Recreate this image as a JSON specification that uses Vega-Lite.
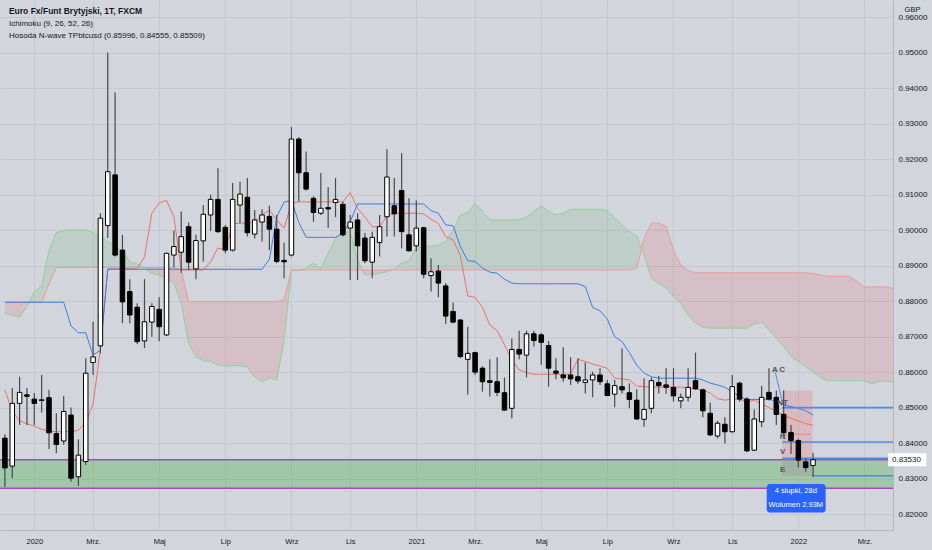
{
  "$schema": "https://vega.github.io/schema/vega-lite/v6.json",
  "width": 893,
  "height": 530,
  "autosize": {"type": "none"},
  "padding": {"left": 0, "top": 0, "right": 39, "bottom": 20},
  "background": "#d2d5dc",
  "config": {
    "view": {"stroke": null},
    "font": "Liberation Sans",
    "axis": {"labelFont": "Liberation Sans", "labelFontSize": 8, "labelColor": "#131722", "gridColor": "#c5c8d0", "gridWidth": 1, "ticks": false, "domainColor": "#b4b7bf", "labelOverlap": false, "labelBound": false},
    "axisQuantitative": {"labelOverlap": false, "tickCount": 20}
  },
  "datasets": {
    "candles": [
      {"d": "2019-12-09", "o": 0.8414, "h": 0.8425, "l": 0.8276, "c": 0.8330},
      {"d": "2019-12-16", "o": 0.8335, "h": 0.8555, "l": 0.8301, "c": 0.8512},
      {"d": "2019-12-23", "o": 0.8512, "h": 0.8587, "l": 0.8451, "c": 0.8543},
      {"d": "2019-12-30", "o": 0.8536, "h": 0.8555, "l": 0.8451, "c": 0.8532},
      {"d": "2020-01-06", "o": 0.8524, "h": 0.8541, "l": 0.8451, "c": 0.8512},
      {"d": "2020-01-13", "o": 0.8522, "h": 0.8592, "l": 0.8486, "c": 0.8520},
      {"d": "2020-01-20", "o": 0.8528, "h": 0.8550, "l": 0.8383, "c": 0.8429},
      {"d": "2020-01-27", "o": 0.8427, "h": 0.8484, "l": 0.8371, "c": 0.8396},
      {"d": "2020-02-03", "o": 0.8406, "h": 0.8533, "l": 0.8395, "c": 0.8489},
      {"d": "2020-02-10", "o": 0.8479, "h": 0.8500, "l": 0.8291, "c": 0.8301},
      {"d": "2020-02-17", "o": 0.8305, "h": 0.8411, "l": 0.8279, "c": 0.8366},
      {"d": "2020-02-24", "o": 0.8348, "h": 0.8639, "l": 0.8338, "c": 0.8597},
      {"d": "2020-03-02", "o": 0.8627, "h": 0.8742, "l": 0.8592, "c": 0.8643},
      {"d": "2020-03-09", "o": 0.8674, "h": 0.9048, "l": 0.8653, "c": 0.9034},
      {"d": "2020-03-16", "o": 0.9013, "h": 0.9501, "l": 0.8978, "c": 0.9165},
      {"d": "2020-03-23", "o": 0.9156, "h": 0.9388, "l": 0.8926, "c": 0.8930},
      {"d": "2020-03-30", "o": 0.8944, "h": 0.8987, "l": 0.8738, "c": 0.8798},
      {"d": "2020-04-06", "o": 0.8827, "h": 0.8862, "l": 0.8738, "c": 0.8761},
      {"d": "2020-04-13", "o": 0.8783, "h": 0.8794, "l": 0.8679, "c": 0.8686},
      {"d": "2020-04-20", "o": 0.8688, "h": 0.8862, "l": 0.8668, "c": 0.8742},
      {"d": "2020-04-27", "o": 0.8741, "h": 0.8794, "l": 0.8700, "c": 0.8785},
      {"d": "2020-05-04", "o": 0.8777, "h": 0.8811, "l": 0.8687, "c": 0.8728},
      {"d": "2020-05-11", "o": 0.8705, "h": 0.8937, "l": 0.8702, "c": 0.8935},
      {"d": "2020-05-18", "o": 0.8930, "h": 0.8999, "l": 0.8896, "c": 0.8954},
      {"d": "2020-05-25", "o": 0.8938, "h": 0.9053, "l": 0.8880, "c": 0.8982},
      {"d": "2020-06-01", "o": 0.9010, "h": 0.9022, "l": 0.8888, "c": 0.8910},
      {"d": "2020-06-08", "o": 0.8891, "h": 0.8987, "l": 0.8862, "c": 0.8971},
      {"d": "2020-06-15", "o": 0.8970, "h": 0.9071, "l": 0.8912, "c": 0.9045},
      {"d": "2020-06-22", "o": 0.9043, "h": 0.9100, "l": 0.8998, "c": 0.9087},
      {"d": "2020-06-29", "o": 0.9087, "h": 0.9175, "l": 0.8992, "c": 0.8996},
      {"d": "2020-07-06", "o": 0.9008, "h": 0.9015, "l": 0.8935, "c": 0.8944},
      {"d": "2020-07-13", "o": 0.8944, "h": 0.9133, "l": 0.8940, "c": 0.9087},
      {"d": "2020-07-20", "o": 0.9071, "h": 0.9137, "l": 0.9020, "c": 0.9102},
      {"d": "2020-07-27", "o": 0.9093, "h": 0.9147, "l": 0.8982, "c": 0.8993},
      {"d": "2020-08-03", "o": 0.8989, "h": 0.9057, "l": 0.8977, "c": 0.9029},
      {"d": "2020-08-10", "o": 0.9023, "h": 0.9059, "l": 0.8968, "c": 0.9043},
      {"d": "2020-08-17", "o": 0.9039, "h": 0.9069, "l": 0.8944, "c": 0.9003},
      {"d": "2020-08-24", "o": 0.9003, "h": 0.9043, "l": 0.8907, "c": 0.8912},
      {"d": "2020-08-31", "o": 0.8915, "h": 0.8965, "l": 0.8865, "c": 0.8911},
      {"d": "2020-09-07", "o": 0.8930, "h": 0.9291, "l": 0.8926, "c": 0.9257},
      {"d": "2020-09-14", "o": 0.9257, "h": 0.9262, "l": 0.9081, "c": 0.9162},
      {"d": "2020-09-21", "o": 0.9162, "h": 0.9222, "l": 0.9112, "c": 0.9116},
      {"d": "2020-09-28", "o": 0.9090, "h": 0.9095, "l": 0.9024, "c": 0.9050},
      {"d": "2020-10-05", "o": 0.9048, "h": 0.9161, "l": 0.9043, "c": 0.9062},
      {"d": "2020-10-12", "o": 0.9064, "h": 0.9121, "l": 0.9006, "c": 0.9060},
      {"d": "2020-10-19", "o": 0.9078, "h": 0.9147, "l": 0.9037, "c": 0.9087},
      {"d": "2020-10-26", "o": 0.9073, "h": 0.9080, "l": 0.8982, "c": 0.8987},
      {"d": "2020-11-02", "o": 0.9006, "h": 0.9043, "l": 0.8860, "c": 0.9023},
      {"d": "2020-11-09", "o": 0.9029, "h": 0.9048, "l": 0.8860, "c": 0.8956},
      {"d": "2020-11-16", "o": 0.8978, "h": 0.8992, "l": 0.8907, "c": 0.8914},
      {"d": "2020-11-23", "o": 0.8910, "h": 0.8996, "l": 0.8865, "c": 0.8980},
      {"d": "2020-11-30", "o": 0.8965, "h": 0.9043, "l": 0.8926, "c": 0.9010},
      {"d": "2020-12-07", "o": 0.9038, "h": 0.9228, "l": 0.8982, "c": 0.9150},
      {"d": "2020-12-14", "o": 0.9069, "h": 0.9147, "l": 0.8982, "c": 0.9046},
      {"d": "2020-12-21", "o": 0.9112, "h": 0.9217, "l": 0.8949, "c": 0.8996},
      {"d": "2020-12-28", "o": 0.8987, "h": 0.9090, "l": 0.8940, "c": 0.8942},
      {"d": "2021-01-04", "o": 0.8956, "h": 0.9084, "l": 0.8940, "c": 0.9006},
      {"d": "2021-01-11", "o": 0.9007, "h": 0.9010, "l": 0.8865, "c": 0.8876},
      {"d": "2021-01-18", "o": 0.8872, "h": 0.8921, "l": 0.8827, "c": 0.8883},
      {"d": "2021-01-25", "o": 0.8885, "h": 0.8902, "l": 0.8811, "c": 0.8851},
      {"d": "2021-02-01", "o": 0.8843, "h": 0.8851, "l": 0.8736, "c": 0.8758},
      {"d": "2021-02-08", "o": 0.8771, "h": 0.8796, "l": 0.8738, "c": 0.8741},
      {"d": "2021-02-15", "o": 0.8747, "h": 0.8749, "l": 0.8639, "c": 0.8644},
      {"d": "2021-02-22", "o": 0.8636, "h": 0.8728, "l": 0.8536, "c": 0.8653},
      {"d": "2021-03-01", "o": 0.8655, "h": 0.8658, "l": 0.8592, "c": 0.8600},
      {"d": "2021-03-08", "o": 0.8611, "h": 0.8617, "l": 0.8545, "c": 0.8573},
      {"d": "2021-03-15", "o": 0.8576, "h": 0.8636, "l": 0.8531, "c": 0.8571},
      {"d": "2021-03-22", "o": 0.8573, "h": 0.8642, "l": 0.8533, "c": 0.8543},
      {"d": "2021-03-29", "o": 0.8542, "h": 0.8585, "l": 0.8491, "c": 0.8493},
      {"d": "2021-04-05", "o": 0.8498, "h": 0.8695, "l": 0.8470, "c": 0.8664},
      {"d": "2021-04-12", "o": 0.8664, "h": 0.8717, "l": 0.8636, "c": 0.8651},
      {"d": "2021-04-19", "o": 0.8648, "h": 0.8717, "l": 0.8585, "c": 0.8708},
      {"d": "2021-04-26", "o": 0.8708, "h": 0.8717, "l": 0.8672, "c": 0.8689},
      {"d": "2021-05-03", "o": 0.8705, "h": 0.8710, "l": 0.8620, "c": 0.8684},
      {"d": "2021-05-10", "o": 0.8675, "h": 0.8688, "l": 0.8559, "c": 0.8611},
      {"d": "2021-05-17", "o": 0.8603, "h": 0.8639, "l": 0.8580, "c": 0.8597},
      {"d": "2021-05-24", "o": 0.8592, "h": 0.8670, "l": 0.8573, "c": 0.8584},
      {"d": "2021-05-31", "o": 0.8592, "h": 0.8642, "l": 0.8564, "c": 0.8581},
      {"d": "2021-06-07", "o": 0.8587, "h": 0.8639, "l": 0.8567, "c": 0.8575},
      {"d": "2021-06-14", "o": 0.8571, "h": 0.8627, "l": 0.8540, "c": 0.8578},
      {"d": "2021-06-21", "o": 0.8578, "h": 0.8601, "l": 0.8529, "c": 0.8592},
      {"d": "2021-06-28", "o": 0.8592, "h": 0.8611, "l": 0.8564, "c": 0.8573},
      {"d": "2021-07-05", "o": 0.8567, "h": 0.8578, "l": 0.8533, "c": 0.8534},
      {"d": "2021-07-12", "o": 0.8538, "h": 0.8578, "l": 0.8501, "c": 0.8562},
      {"d": "2021-07-19", "o": 0.8559, "h": 0.8667, "l": 0.8540, "c": 0.8550},
      {"d": "2021-07-26", "o": 0.8542, "h": 0.8569, "l": 0.8498, "c": 0.8523},
      {"d": "2021-08-02", "o": 0.8521, "h": 0.8552, "l": 0.8465, "c": 0.8468},
      {"d": "2021-08-09", "o": 0.8467, "h": 0.8583, "l": 0.8446, "c": 0.8495},
      {"d": "2021-08-16", "o": 0.8498, "h": 0.8585, "l": 0.8484, "c": 0.8576},
      {"d": "2021-08-23", "o": 0.8571, "h": 0.8589, "l": 0.8540, "c": 0.8562},
      {"d": "2021-08-30", "o": 0.8564, "h": 0.8611, "l": 0.8539, "c": 0.8557},
      {"d": "2021-09-06", "o": 0.8557, "h": 0.8611, "l": 0.8517, "c": 0.8533},
      {"d": "2021-09-13", "o": 0.8519, "h": 0.8540, "l": 0.8498, "c": 0.8529},
      {"d": "2021-09-20", "o": 0.8529, "h": 0.8611, "l": 0.8517, "c": 0.8557},
      {"d": "2021-09-27", "o": 0.8576, "h": 0.8655, "l": 0.8550, "c": 0.8553},
      {"d": "2021-10-04", "o": 0.8550, "h": 0.8554, "l": 0.8473, "c": 0.8491},
      {"d": "2021-10-11", "o": 0.8484, "h": 0.8514, "l": 0.8420, "c": 0.8423},
      {"d": "2021-10-18", "o": 0.8420, "h": 0.8463, "l": 0.8413, "c": 0.8456},
      {"d": "2021-10-25", "o": 0.8453, "h": 0.8473, "l": 0.8399, "c": 0.8432},
      {"d": "2021-11-01", "o": 0.8432, "h": 0.8592, "l": 0.8429, "c": 0.8559},
      {"d": "2021-11-08", "o": 0.8569, "h": 0.8573, "l": 0.8517, "c": 0.8524},
      {"d": "2021-11-15", "o": 0.8524, "h": 0.8529, "l": 0.8375, "c": 0.8378},
      {"d": "2021-11-22", "o": 0.8380, "h": 0.8495, "l": 0.8378, "c": 0.8468},
      {"d": "2021-11-29", "o": 0.8460, "h": 0.8561, "l": 0.8445, "c": 0.8529},
      {"d": "2021-12-06", "o": 0.8543, "h": 0.8611, "l": 0.8520, "c": 0.8524},
      {"d": "2021-12-13", "o": 0.8529, "h": 0.8548, "l": 0.8451, "c": 0.8481},
      {"d": "2021-12-20", "o": 0.8481, "h": 0.8548, "l": 0.8420, "c": 0.8429},
      {"d": "2021-12-27", "o": 0.8430, "h": 0.8451, "l": 0.8369, "c": 0.8407},
      {"d": "2022-01-03", "o": 0.8407, "h": 0.8413, "l": 0.8332, "c": 0.8352},
      {"d": "2022-01-10", "o": 0.8347, "h": 0.8357, "l": 0.8319, "c": 0.8331},
      {"d": "2022-01-17", "o": 0.8337, "h": 0.8373, "l": 0.8305, "c": 0.8353}
    ],
    "ichi": [
      {"d": "2019-12-09", "t": 0.8550, "kj": 0.8797},
      {"d": "2019-12-16", "t": 0.8489, "kj": 0.8797},
      {"d": "2019-12-23", "t": 0.8463, "kj": 0.8797},
      {"d": "2019-12-30", "t": 0.8454, "kj": 0.8797},
      {"d": "2020-01-06", "t": 0.8448, "kj": 0.8797},
      {"d": "2020-01-13", "t": 0.8439, "kj": 0.8797},
      {"d": "2020-01-20", "t": 0.8434, "kj": 0.8797},
      {"d": "2020-01-27", "t": 0.8432, "kj": 0.8797},
      {"d": "2020-02-03", "t": 0.8432, "kj": 0.8797},
      {"d": "2020-02-10", "t": 0.8432, "kj": 0.8730},
      {"d": "2020-02-17", "t": 0.8436, "kj": 0.8711},
      {"d": "2020-02-24", "t": 0.8459, "kj": 0.8711},
      {"d": "2020-03-02", "t": 0.8510, "kj": 0.8648},
      {"d": "2020-03-09", "t": 0.8665, "kj": 0.8662},
      {"d": "2020-03-16", "t": 0.8891, "kj": 0.8890},
      {"d": "2020-03-23", "t": 0.8891, "kj": 0.8890},
      {"d": "2020-03-30", "t": 0.8891, "kj": 0.8890},
      {"d": "2020-04-06", "t": 0.8891, "kj": 0.8890},
      {"d": "2020-04-13", "t": 0.8891, "kj": 0.8890},
      {"d": "2020-04-20", "t": 0.8925, "kj": 0.8890},
      {"d": "2020-04-27", "t": 0.9048, "kj": 0.8890},
      {"d": "2020-05-04", "t": 0.9077, "kj": 0.8890},
      {"d": "2020-05-11", "t": 0.9084, "kj": 0.8890},
      {"d": "2020-05-18", "t": 0.9038, "kj": 0.8890},
      {"d": "2020-05-25", "t": 0.8888, "kj": 0.8890},
      {"d": "2020-06-01", "t": 0.8888, "kj": 0.8890},
      {"d": "2020-06-08", "t": 0.8888, "kj": 0.8890},
      {"d": "2020-06-15", "t": 0.8888, "kj": 0.8890},
      {"d": "2020-06-22", "t": 0.8911, "kj": 0.8890},
      {"d": "2020-06-29", "t": 0.8950, "kj": 0.8890},
      {"d": "2020-07-06", "t": 0.8944, "kj": 0.8890},
      {"d": "2020-07-13", "t": 0.9018, "kj": 0.8890},
      {"d": "2020-07-20", "t": 0.9020, "kj": 0.8890},
      {"d": "2020-07-27", "t": 0.9020, "kj": 0.8890},
      {"d": "2020-08-03", "t": 0.9022, "kj": 0.8890},
      {"d": "2020-08-10", "t": 0.9043, "kj": 0.8890},
      {"d": "2020-08-17", "t": 0.9057, "kj": 0.8918},
      {"d": "2020-08-24", "t": 0.9029, "kj": 0.9038},
      {"d": "2020-08-31", "t": 0.9006, "kj": 0.9079},
      {"d": "2020-09-07", "t": 0.9076, "kj": 0.9084},
      {"d": "2020-09-14", "t": 0.9080, "kj": 0.9022},
      {"d": "2020-09-21", "t": 0.9080, "kj": 0.8980},
      {"d": "2020-09-28", "t": 0.9080, "kj": 0.8980},
      {"d": "2020-10-05", "t": 0.9080, "kj": 0.8980},
      {"d": "2020-10-12", "t": 0.9080, "kj": 0.8980},
      {"d": "2020-10-19", "t": 0.9080, "kj": 0.8980},
      {"d": "2020-10-26", "t": 0.9080, "kj": 0.8992},
      {"d": "2020-11-02", "t": 0.9106, "kj": 0.9024},
      {"d": "2020-11-09", "t": 0.9062, "kj": 0.9074},
      {"d": "2020-11-16", "t": 0.9037, "kj": 0.9074},
      {"d": "2020-11-23", "t": 0.9010, "kj": 0.9074},
      {"d": "2020-11-30", "t": 0.9010, "kj": 0.9074},
      {"d": "2020-12-07", "t": 0.9040, "kj": 0.9074},
      {"d": "2020-12-14", "t": 0.9048, "kj": 0.9074},
      {"d": "2020-12-21", "t": 0.9048, "kj": 0.9074},
      {"d": "2020-12-28", "t": 0.9048, "kj": 0.9074},
      {"d": "2021-01-04", "t": 0.9048, "kj": 0.9074},
      {"d": "2021-01-11", "t": 0.9046, "kj": 0.9074},
      {"d": "2021-01-18", "t": 0.9031, "kj": 0.9055},
      {"d": "2021-01-25", "t": 0.9019, "kj": 0.9048},
      {"d": "2021-02-01", "t": 0.8982, "kj": 0.9015},
      {"d": "2021-02-08", "t": 0.8973, "kj": 0.9013},
      {"d": "2021-02-15", "t": 0.8928, "kj": 0.8954},
      {"d": "2021-02-22", "t": 0.8815, "kj": 0.8914},
      {"d": "2021-03-01", "t": 0.8811, "kj": 0.8912},
      {"d": "2021-03-08", "t": 0.8783, "kj": 0.8893},
      {"d": "2021-03-15", "t": 0.8733, "kj": 0.8882},
      {"d": "2021-03-22", "t": 0.8717, "kj": 0.8879},
      {"d": "2021-03-29", "t": 0.8677, "kj": 0.8862},
      {"d": "2021-04-05", "t": 0.8634, "kj": 0.8851},
      {"d": "2021-04-12", "t": 0.8606, "kj": 0.8849},
      {"d": "2021-04-19", "t": 0.8599, "kj": 0.8849},
      {"d": "2021-04-26", "t": 0.8594, "kj": 0.8849},
      {"d": "2021-05-03", "t": 0.8594, "kj": 0.8849},
      {"d": "2021-05-10", "t": 0.8594, "kj": 0.8849},
      {"d": "2021-05-17", "t": 0.8594, "kj": 0.8849},
      {"d": "2021-05-24", "t": 0.8594, "kj": 0.8849},
      {"d": "2021-05-31", "t": 0.8594, "kj": 0.8849},
      {"d": "2021-06-07", "t": 0.8636, "kj": 0.8849},
      {"d": "2021-06-14", "t": 0.8630, "kj": 0.8841},
      {"d": "2021-06-21", "t": 0.8623, "kj": 0.8782},
      {"d": "2021-06-28", "t": 0.8617, "kj": 0.8773},
      {"d": "2021-07-05", "t": 0.8611, "kj": 0.8749},
      {"d": "2021-07-12", "t": 0.8583, "kj": 0.8700},
      {"d": "2021-07-19", "t": 0.8581, "kj": 0.8686},
      {"d": "2021-07-26", "t": 0.8578, "kj": 0.8655},
      {"d": "2021-08-02", "t": 0.8561, "kj": 0.8620},
      {"d": "2021-08-09", "t": 0.8559, "kj": 0.8597},
      {"d": "2021-08-16", "t": 0.8558, "kj": 0.8587},
      {"d": "2021-08-23", "t": 0.8558, "kj": 0.8583},
      {"d": "2021-08-30", "t": 0.8558, "kj": 0.8583},
      {"d": "2021-09-06", "t": 0.8558, "kj": 0.8583},
      {"d": "2021-09-13", "t": 0.8558, "kj": 0.8583},
      {"d": "2021-09-20", "t": 0.8555, "kj": 0.8583},
      {"d": "2021-09-27", "t": 0.8552, "kj": 0.8583},
      {"d": "2021-10-04", "t": 0.8550, "kj": 0.8578},
      {"d": "2021-10-11", "t": 0.8541, "kj": 0.8569},
      {"d": "2021-10-18", "t": 0.8525, "kj": 0.8564},
      {"d": "2021-10-25", "t": 0.8521, "kj": 0.8557},
      {"d": "2021-11-01", "t": 0.8524, "kj": 0.8545},
      {"d": "2021-11-08", "t": 0.8524, "kj": 0.8531},
      {"d": "2021-11-15", "t": 0.8515, "kj": 0.8523},
      {"d": "2021-11-22", "t": 0.8521, "kj": 0.8523},
      {"d": "2021-11-29", "t": 0.8510, "kj": 0.8523},
      {"d": "2021-12-06", "t": 0.8500, "kj": 0.8523},
      {"d": "2021-12-13", "t": 0.8490, "kj": 0.8519},
      {"d": "2021-12-20", "t": 0.8478, "kj": 0.8507},
      {"d": "2021-12-27", "t": 0.8470, "kj": 0.8503},
      {"d": "2022-01-03", "t": 0.8462, "kj": 0.8498},
      {"d": "2022-01-10", "t": 0.8455, "kj": 0.8491},
      {"d": "2022-01-17", "t": 0.8450, "kj": 0.8479}
    ],
    "cloud": [
      {"d": "2019-12-09", "a": 0.8766, "b": 0.8797, "s": 1, "kind": "bear"},
      {"d": "2019-12-16", "a": 0.8761, "b": 0.8797, "s": 1, "kind": "bear"},
      {"d": "2019-12-23", "a": 0.8755, "b": 0.8797, "s": 1, "kind": "bear"},
      {"d": "2019-12-30", "a": 0.8785, "b": 0.8797, "s": 1, "kind": "bear"},
      {"d": "2020-01-01", "a": 0.8797, "b": 0.8797, "s": 1, "kind": "bear"},
      {"d": "2020-01-01", "a": 0.8797, "b": 0.8797, "s": 2, "kind": "bull"},
      {"d": "2020-01-06", "a": 0.8827, "b": 0.8797, "s": 2, "kind": "bull"},
      {"d": "2020-01-13", "a": 0.8843, "b": 0.8797, "s": 2, "kind": "bull"},
      {"d": "2020-01-20", "a": 0.8944, "b": 0.8849, "s": 2, "kind": "bull"},
      {"d": "2020-01-27", "a": 0.8993, "b": 0.8895, "s": 2, "kind": "bull"},
      {"d": "2020-02-03", "a": 0.8999, "b": 0.8895, "s": 2, "kind": "bull"},
      {"d": "2020-02-10", "a": 0.9001, "b": 0.8895, "s": 2, "kind": "bull"},
      {"d": "2020-02-17", "a": 0.9001, "b": 0.8895, "s": 2, "kind": "bull"},
      {"d": "2020-02-24", "a": 0.9001, "b": 0.8895, "s": 2, "kind": "bull"},
      {"d": "2020-03-02", "a": 0.8993, "b": 0.8895, "s": 2, "kind": "bull"},
      {"d": "2020-03-09", "a": 0.8982, "b": 0.8895, "s": 2, "kind": "bull"},
      {"d": "2020-03-16", "a": 0.8968, "b": 0.8895, "s": 2, "kind": "bull"},
      {"d": "2020-03-23", "a": 0.8956, "b": 0.8895, "s": 2, "kind": "bull"},
      {"d": "2020-03-30", "a": 0.8940, "b": 0.8895, "s": 2, "kind": "bull"},
      {"d": "2020-04-06", "a": 0.8911, "b": 0.8895, "s": 2, "kind": "bull"},
      {"d": "2020-04-13", "a": 0.8905, "b": 0.8895, "s": 2, "kind": "bull"},
      {"d": "2020-04-19", "a": 0.8895, "b": 0.8895, "s": 2, "kind": "bull"},
      {"d": "2020-04-19", "a": 0.8895, "b": 0.8895, "s": 3, "kind": "bear"},
      {"d": "2020-04-20", "a": 0.8893, "b": 0.8895, "s": 3, "kind": "bear"},
      {"d": "2020-04-27", "a": 0.8879, "b": 0.8895, "s": 3, "kind": "bear"},
      {"d": "2020-05-04", "a": 0.8874, "b": 0.8895, "s": 3, "kind": "bear"},
      {"d": "2020-05-11", "a": 0.8862, "b": 0.8895, "s": 3, "kind": "bear"},
      {"d": "2020-05-18", "a": 0.8851, "b": 0.8895, "s": 3, "kind": "bear"},
      {"d": "2020-05-25", "a": 0.8794, "b": 0.8888, "s": 3, "kind": "bear"},
      {"d": "2020-06-01", "a": 0.8681, "b": 0.8799, "s": 3, "kind": "bear"},
      {"d": "2020-06-08", "a": 0.8644, "b": 0.8799, "s": 3, "kind": "bear"},
      {"d": "2020-06-15", "a": 0.8632, "b": 0.8799, "s": 3, "kind": "bear"},
      {"d": "2020-06-22", "a": 0.8630, "b": 0.8799, "s": 3, "kind": "bear"},
      {"d": "2020-06-29", "a": 0.8620, "b": 0.8799, "s": 3, "kind": "bear"},
      {"d": "2020-07-06", "a": 0.8617, "b": 0.8799, "s": 3, "kind": "bear"},
      {"d": "2020-07-13", "a": 0.8618, "b": 0.8799, "s": 3, "kind": "bear"},
      {"d": "2020-07-20", "a": 0.8618, "b": 0.8799, "s": 3, "kind": "bear"},
      {"d": "2020-07-27", "a": 0.8615, "b": 0.8799, "s": 3, "kind": "bear"},
      {"d": "2020-08-03", "a": 0.8586, "b": 0.8799, "s": 3, "kind": "bear"},
      {"d": "2020-08-10", "a": 0.8573, "b": 0.8799, "s": 3, "kind": "bear"},
      {"d": "2020-08-17", "a": 0.8583, "b": 0.8799, "s": 3, "kind": "bear"},
      {"d": "2020-08-24", "a": 0.8578, "b": 0.8799, "s": 3, "kind": "bear"},
      {"d": "2020-08-31", "a": 0.8691, "b": 0.8804, "s": 3, "kind": "bear"},
      {"d": "2020-09-07", "a": 0.8888, "b": 0.8888, "s": 3, "kind": "bear"},
      {"d": "2020-09-07", "a": 0.8888, "b": 0.8888, "s": 4, "kind": "bull"},
      {"d": "2020-09-14", "a": 0.8888, "b": 0.8888, "s": 4, "kind": "bull"},
      {"d": "2020-09-21", "a": 0.8893, "b": 0.8888, "s": 4, "kind": "bull"},
      {"d": "2020-09-28", "a": 0.8907, "b": 0.8888, "s": 4, "kind": "bull"},
      {"d": "2020-10-05", "a": 0.8893, "b": 0.8888, "s": 4, "kind": "bull"},
      {"d": "2020-10-12", "a": 0.8935, "b": 0.8888, "s": 4, "kind": "bull"},
      {"d": "2020-10-19", "a": 0.8977, "b": 0.8888, "s": 4, "kind": "bull"},
      {"d": "2020-10-26", "a": 0.8992, "b": 0.8888, "s": 4, "kind": "bull"},
      {"d": "2020-11-02", "a": 0.8996, "b": 0.8888, "s": 4, "kind": "bull"},
      {"d": "2020-11-09", "a": 0.8916, "b": 0.8888, "s": 4, "kind": "bull"},
      {"d": "2020-11-13T16:00:00Z", "a": 0.8888, "b": 0.8888, "s": 4, "kind": "bull"},
      {"d": "2020-11-13T16:00:00Z", "a": 0.8888, "b": 0.8888, "s": 5, "kind": "bear"},
      {"d": "2020-11-16", "a": 0.8874, "b": 0.8888, "s": 5, "kind": "bear"},
      {"d": "2020-11-23", "a": 0.8875, "b": 0.8888, "s": 5, "kind": "bear"},
      {"d": "2020-11-30", "a": 0.8879, "b": 0.8888, "s": 5, "kind": "bear"},
      {"d": "2020-12-07", "a": 0.8883, "b": 0.8888, "s": 5, "kind": "bear"},
      {"d": "2020-12-12", "a": 0.8888, "b": 0.8888, "s": 5, "kind": "bear"},
      {"d": "2020-12-12", "a": 0.8888, "b": 0.8888, "s": 6, "kind": "bull"},
      {"d": "2020-12-14", "a": 0.8890, "b": 0.8888, "s": 6, "kind": "bull"},
      {"d": "2020-12-21", "a": 0.8907, "b": 0.8888, "s": 6, "kind": "bull"},
      {"d": "2020-12-28", "a": 0.8914, "b": 0.8888, "s": 6, "kind": "bull"},
      {"d": "2021-01-04", "a": 0.8949, "b": 0.8888, "s": 6, "kind": "bull"},
      {"d": "2021-01-11", "a": 0.8955, "b": 0.8888, "s": 6, "kind": "bull"},
      {"d": "2021-01-18", "a": 0.8955, "b": 0.8888, "s": 6, "kind": "bull"},
      {"d": "2021-01-25", "a": 0.8958, "b": 0.8888, "s": 6, "kind": "bull"},
      {"d": "2021-02-01", "a": 0.8969, "b": 0.8888, "s": 6, "kind": "bull"},
      {"d": "2021-02-08", "a": 0.8999, "b": 0.8888, "s": 6, "kind": "bull"},
      {"d": "2021-02-15", "a": 0.9043, "b": 0.8888, "s": 6, "kind": "bull"},
      {"d": "2021-02-22", "a": 0.9048, "b": 0.8888, "s": 6, "kind": "bull"},
      {"d": "2021-03-01", "a": 0.9076, "b": 0.8888, "s": 6, "kind": "bull"},
      {"d": "2021-03-08", "a": 0.9053, "b": 0.8888, "s": 6, "kind": "bull"},
      {"d": "2021-03-15", "a": 0.9029, "b": 0.8888, "s": 6, "kind": "bull"},
      {"d": "2021-03-22", "a": 0.9029, "b": 0.8888, "s": 6, "kind": "bull"},
      {"d": "2021-03-29", "a": 0.9029, "b": 0.8888, "s": 6, "kind": "bull"},
      {"d": "2021-04-05", "a": 0.9029, "b": 0.8888, "s": 6, "kind": "bull"},
      {"d": "2021-04-12", "a": 0.9029, "b": 0.8888, "s": 6, "kind": "bull"},
      {"d": "2021-04-19", "a": 0.9037, "b": 0.8888, "s": 6, "kind": "bull"},
      {"d": "2021-04-26", "a": 0.9053, "b": 0.8888, "s": 6, "kind": "bull"},
      {"d": "2021-05-03", "a": 0.9069, "b": 0.8888, "s": 6, "kind": "bull"},
      {"d": "2021-05-10", "a": 0.9053, "b": 0.8888, "s": 6, "kind": "bull"},
      {"d": "2021-05-17", "a": 0.9043, "b": 0.8888, "s": 6, "kind": "bull"},
      {"d": "2021-05-24", "a": 0.9048, "b": 0.8888, "s": 6, "kind": "bull"},
      {"d": "2021-05-31", "a": 0.9059, "b": 0.8888, "s": 6, "kind": "bull"},
      {"d": "2021-06-07", "a": 0.9059, "b": 0.8888, "s": 6, "kind": "bull"},
      {"d": "2021-06-14", "a": 0.9059, "b": 0.8888, "s": 6, "kind": "bull"},
      {"d": "2021-06-21", "a": 0.9059, "b": 0.8888, "s": 6, "kind": "bull"},
      {"d": "2021-06-28", "a": 0.9059, "b": 0.8888, "s": 6, "kind": "bull"},
      {"d": "2021-07-05", "a": 0.9055, "b": 0.8888, "s": 6, "kind": "bull"},
      {"d": "2021-07-12", "a": 0.9034, "b": 0.8888, "s": 6, "kind": "bull"},
      {"d": "2021-07-19", "a": 0.9015, "b": 0.8888, "s": 6, "kind": "bull"},
      {"d": "2021-07-26", "a": 0.8996, "b": 0.8888, "s": 6, "kind": "bull"},
      {"d": "2021-08-02", "a": 0.8984, "b": 0.8893, "s": 6, "kind": "bull"},
      {"d": "2021-08-06T14:00:00Z", "a": 0.8948, "b": 0.8948, "s": 6, "kind": "bull"},
      {"d": "2021-08-06T14:00:00Z", "a": 0.8948, "b": 0.8948, "s": 7, "kind": "bear"},
      {"d": "2021-08-09", "a": 0.8930, "b": 0.8977, "s": 7, "kind": "bear"},
      {"d": "2021-08-16", "a": 0.8865, "b": 0.9020, "s": 7, "kind": "bear"},
      {"d": "2021-08-23", "a": 0.8850, "b": 0.9020, "s": 7, "kind": "bear"},
      {"d": "2021-08-30", "a": 0.8837, "b": 0.9010, "s": 7, "kind": "bear"},
      {"d": "2021-09-06", "a": 0.8813, "b": 0.8944, "s": 7, "kind": "bear"},
      {"d": "2021-09-13", "a": 0.8794, "b": 0.8902, "s": 7, "kind": "bear"},
      {"d": "2021-09-20", "a": 0.8761, "b": 0.8886, "s": 7, "kind": "bear"},
      {"d": "2021-09-27", "a": 0.8738, "b": 0.8880, "s": 7, "kind": "bear"},
      {"d": "2021-10-04", "a": 0.8727, "b": 0.8880, "s": 7, "kind": "bear"},
      {"d": "2021-10-11", "a": 0.8724, "b": 0.8880, "s": 7, "kind": "bear"},
      {"d": "2021-10-18", "a": 0.8724, "b": 0.8880, "s": 7, "kind": "bear"},
      {"d": "2021-10-25", "a": 0.8724, "b": 0.8880, "s": 7, "kind": "bear"},
      {"d": "2021-11-01", "a": 0.8724, "b": 0.8880, "s": 7, "kind": "bear"},
      {"d": "2021-11-08", "a": 0.8724, "b": 0.8880, "s": 7, "kind": "bear"},
      {"d": "2021-11-15", "a": 0.8724, "b": 0.8880, "s": 7, "kind": "bear"},
      {"d": "2021-11-22", "a": 0.8736, "b": 0.8880, "s": 7, "kind": "bear"},
      {"d": "2021-11-29", "a": 0.8740, "b": 0.8880, "s": 7, "kind": "bear"},
      {"d": "2021-12-06", "a": 0.8719, "b": 0.8880, "s": 7, "kind": "bear"},
      {"d": "2021-12-13", "a": 0.8695, "b": 0.8880, "s": 7, "kind": "bear"},
      {"d": "2021-12-20", "a": 0.8672, "b": 0.8880, "s": 7, "kind": "bear"},
      {"d": "2021-12-27", "a": 0.8644, "b": 0.8880, "s": 7, "kind": "bear"},
      {"d": "2022-01-03", "a": 0.8630, "b": 0.8880, "s": 7, "kind": "bear"},
      {"d": "2022-01-10", "a": 0.8615, "b": 0.8880, "s": 7, "kind": "bear"},
      {"d": "2022-01-17", "a": 0.8601, "b": 0.8878, "s": 7, "kind": "bear"},
      {"d": "2022-01-24", "a": 0.8585, "b": 0.8874, "s": 7, "kind": "bear"},
      {"d": "2022-01-31", "a": 0.8576, "b": 0.8870, "s": 7, "kind": "bear"},
      {"d": "2022-02-07", "a": 0.8576, "b": 0.8870, "s": 7, "kind": "bear"},
      {"d": "2022-02-14", "a": 0.8576, "b": 0.8870, "s": 7, "kind": "bear"},
      {"d": "2022-02-21", "a": 0.8576, "b": 0.8870, "s": 7, "kind": "bear"},
      {"d": "2022-02-28", "a": 0.8576, "b": 0.8855, "s": 7, "kind": "bear"},
      {"d": "2022-03-07", "a": 0.8576, "b": 0.8840, "s": 7, "kind": "bear"},
      {"d": "2022-03-14", "a": 0.8567, "b": 0.8840, "s": 7, "kind": "bear"},
      {"d": "2022-03-21", "a": 0.8574, "b": 0.8840, "s": 7, "kind": "bear"},
      {"d": "2022-03-28", "a": 0.8574, "b": 0.8840, "s": 7, "kind": "bear"},
      {"d": "2022-04-04", "a": 0.8572, "b": 0.8835, "s": 7, "kind": "bear"}
    ]
  },
  "encoding": {
    "x": {
      "field": "d",
      "type": "temporal",
      "scale": {"type": "utc", "domain": [{"year": 2019, "month": 12, "date": 9, "hours": 2, "utc": true}, {"year": 2022, "month": 3, "date": 29, "hours": 10, "utc": true}]},
      "axis": {
        "title": null,
        "grid": true,
        "labelPadding": 7,
        "labelFontSize": 7.5,
        "labelOverlap": false,
        "labelFlush": false,
        "values": [
          {"year": 2020, "month": 1, "date": 6, "utc": true},
          {"year": 2020, "month": 3, "date": 2, "utc": true},
          {"year": 2020, "month": 5, "date": 4, "utc": true},
          {"year": 2020, "month": 7, "date": 6, "utc": true},
          {"year": 2020, "month": 9, "date": 7, "utc": true},
          {"year": 2020, "month": 11, "date": 2, "utc": true},
          {"year": 2021, "month": 1, "date": 4, "utc": true},
          {"year": 2021, "month": 3, "date": 1, "utc": true},
          {"year": 2021, "month": 5, "date": 3, "utc": true},
          {"year": 2021, "month": 7, "date": 5, "utc": true},
          {"year": 2021, "month": 9, "date": 6, "utc": true},
          {"year": 2021, "month": 11, "date": 1, "utc": true},
          {"year": 2022, "month": 1, "date": 3, "utc": true},
          {"year": 2022, "month": 3, "date": 7, "utc": true}
        ],
        "labelExpr": "utcmonth(datum.value) == 0 ? utcFormat(datum.value, '%Y') : ['', '', 'Mrz.', '', 'Maj', '', 'Lip', '', 'Wrz', '', 'Lis', ''][utcmonth(datum.value)]"
      }
    }
  },
  "layer": [
    {
      "data": {"name": "cloud"},
      "mark": {"type": "area", "clip": true, "opacity": 0.13},
      "encoding": {
        "y": {
          "field": "a", "type": "quantitative",
          "scale": {"domain": [0.8155, 0.9649], "nice": false, "zero": false},
          "axis": {
            "orient": "right", "title": "GBP", "titleAngle": 0, "titleFontSize": 7.5, "titleFontWeight": "normal",
            "titleColor": "#131722", "titleX": 19, "titleY": 9, "titleAlign": "center", "titleBaseline": "middle",
            "values": [0.82, 0.83, 0.84, 0.85, 0.86, 0.87, 0.88, 0.89, 0.90, 0.91, 0.92, 0.93, 0.94, 0.95, 0.96],
            "format": ".5f", "labelPadding": 5, "labelOverlap": false, "labelFlush": false, "grid": true
          }
        },
        "y2": {"field": "b"},
        "detail": {"field": "s"},
        "color": {"field": "kind", "type": "nominal", "scale": {"domain": ["bull", "bear"], "range": ["#43a047", "#e53935"]}, "legend": null}
      }
    },
    {
      "data": {"name": "cloud"},
      "mark": {"type": "line", "clip": true, "color": "#93cf98", "strokeWidth": 1},
      "encoding": {"y": {"field": "a", "type": "quantitative", "scale": {"domain": [0.8155, 0.9649], "nice": false, "zero": false}}}
    },
    {
      "data": {"name": "cloud"},
      "mark": {"type": "line", "clip": true, "color": "#ec9a9a", "strokeWidth": 1},
      "encoding": {"y": {"field": "b", "type": "quantitative", "scale": {"domain": [0.8155, 0.9649], "nice": false, "zero": false}}}
    },
    {
      "data": {"values": [{"d": "2019-11-01", "d2": "2022-06-01", "p": 0.8353, "p2": 0.8273}], "format": {"parse": {"d2": "date"}}},
      "mark": {"type": "rect", "clip": true, "color": "#4caf50", "opacity": 0.36},
      "encoding": {
        "x2": {"field": "d2"},
        "y": {"field": "p", "type": "quantitative", "scale": {"domain": [0.8155, 0.9649], "nice": false, "zero": false}},
        "y2": {"field": "p2"}
      }
    },
    {
      "data": {"values": [{"d": "2019-11-01", "d2": "2022-06-01", "p": 0.8353}, {"d": "2019-11-01", "d2": "2022-06-01", "p": 0.8273}], "format": {"parse": {"d2": "date"}}},
      "mark": {"type": "rule", "clip": true, "color": "#ab47bc", "strokeWidth": 1.5},
      "encoding": {
        "x2": {"field": "d2"},
        "y": {"field": "p", "type": "quantitative", "scale": {"domain": [0.8155, 0.9649], "nice": false, "zero": false}}
      }
    },
    {
      "data": {"values": [{"d": "2021-12-18T14:00:00Z", "d2": "2022-01-16T12:00:00Z", "p": 0.8548, "p2": 0.8354}], "format": {"parse": {"d2": "date"}}},
      "mark": {"type": "rect", "color": "#ef5350", "opacity": 0.2},
      "encoding": {
        "x2": {"field": "d2"},
        "y": {"field": "p", "type": "quantitative", "scale": {"domain": [0.8155, 0.9649], "nice": false, "zero": false}},
        "y2": {"field": "p2"}
      }
    },
    {
      "data": {"values": [{"d": "2021-12-18T14:00:00Z", "d2": "2022-01-16T12:00:00Z", "p": 0.8354, "p2": 0.8307}], "format": {"parse": {"d2": "date"}}},
      "mark": {"type": "rect", "color": "#9e9e9e", "opacity": 0.45},
      "encoding": {
        "x2": {"field": "d2"},
        "y": {"field": "p", "type": "quantitative", "scale": {"domain": [0.8155, 0.9649], "nice": false, "zero": false}},
        "y2": {"field": "p2"}
      }
    },
    {
      "data": {"values": [{"d": "2021-12-24", "d2": "2022-01-15", "p": 0.8425}], "format": {"parse": {"d2": "date"}}},
      "mark": {"type": "rule", "color": "#ef5350", "opacity": 0.5, "strokeWidth": 1},
      "encoding": {
        "x2": {"field": "d2"},
        "y": {"field": "p", "type": "quantitative", "scale": {"domain": [0.8155, 0.9649], "nice": false, "zero": false}}
      }
    },
    {
      "data": {"name": "ichi"},
      "mark": {"type": "line", "color": "#ef6f69", "strokeWidth": 1},
      "encoding": {"y": {"field": "t", "type": "quantitative", "scale": {"domain": [0.8155, 0.9649], "nice": false, "zero": false}}}
    },
    {
      "data": {"name": "ichi"},
      "mark": {"type": "line", "color": "#3b7ce6", "strokeWidth": 1},
      "encoding": {"y": {"field": "kj", "type": "quantitative", "scale": {"domain": [0.8155, 0.9649], "nice": false, "zero": false}}}
    },
    {
      "data": {"values": [
        {"d": "2021-12-18T14:00:00Z", "d2": "2022-06-01", "p": 0.8500},
        {"d": "2021-12-18T14:00:00Z", "d2": "2022-06-01", "p": 0.8403},
        {"d": "2021-12-18T14:00:00Z", "d2": "2022-06-01", "p": 0.8357},
        {"d": "2022-01-16T12:00:00Z", "d2": "2022-06-01", "p": 0.8308}
      ], "format": {"parse": {"d2": "date"}}},
      "mark": {"type": "rule", "clip": true, "color": "#4a8cf0", "strokeWidth": 1.6},
      "encoding": {
        "x2": {"field": "d2"},
        "y": {"field": "p", "type": "quantitative", "scale": {"domain": [0.8155, 0.9649], "nice": false, "zero": false}}
      }
    },
    {
      "data": {"values": [{"d": "2021-12-12T00:00:00Z", "p": 0.8600}, {"d": "2021-12-18T14:00:00Z", "p": 0.8518}]},
      "mark": {"type": "line", "color": "#4a8cf0", "strokeWidth": 1},
      "encoding": {"y": {"field": "p", "type": "quantitative", "scale": {"domain": [0.8155, 0.9649], "nice": false, "zero": false}}}
    },
    {
      "data": {"name": "candles"},
      "mark": {"type": "rule", "color": "#4a4a4a", "strokeWidth": 1.2},
      "encoding": {
        "y": {"field": "l", "type": "quantitative", "scale": {"domain": [0.8155, 0.9649], "nice": false, "zero": false}},
        "y2": {"field": "h"}
      }
    },
    {
      "data": {"name": "candles"},
      "mark": {"type": "bar", "size": 4.5, "stroke": "#000000", "strokeWidth": 1},
      "encoding": {
        "y": {"field": "o", "type": "quantitative", "scale": {"domain": [0.8155, 0.9649], "nice": false, "zero": false}},
        "y2": {"field": "c"},
        "fill": {"condition": {"test": "datum.c >= datum.o", "value": "#ffffff"}, "value": "#000000"}
      }
    },
    {
      "data": {"values": [
        {"d": "2021-12-11T17:00:00Z", "p": 0.8606, "t": "A"},
        {"d": "2021-12-18T14:00:00Z", "p": 0.8605, "t": "C"},
        {"d": "2021-12-19T00:00:00Z", "p": 0.8514, "t": "NT"},
        {"d": "2021-12-19T00:00:00Z", "p": 0.8416, "t": "N"},
        {"d": "2021-12-19T00:00:00Z", "p": 0.8376, "t": "V"},
        {"d": "2021-12-19T00:00:00Z", "p": 0.8324, "t": "E"}
      ]},
      "mark": {"type": "text", "fontSize": 8, "fontWeight": "bold", "color": "#50535e", "align": "center", "baseline": "middle"},
      "encoding": {
        "y": {"field": "p", "type": "quantitative", "scale": {"domain": [0.8155, 0.9649], "nice": false, "zero": false}},
        "text": {"field": "t"}
      }
    },
    {
      "data": {"values": [{"d": "2021-12-03T21:00:00Z", "d2": "2022-01-29T00:00:00Z", "p": 0.8285, "p2": 0.8204}], "format": {"parse": {"d2": "date"}}},
      "mark": {"type": "rect", "color": "#2962ff", "cornerRadius": 3},
      "encoding": {
        "x2": {"field": "d2"},
        "y": {"field": "p", "type": "quantitative", "scale": {"domain": [0.8155, 0.9649], "nice": false, "zero": false}},
        "y2": {"field": "p2"}
      }
    },
    {
      "data": {"values": [
        {"d": "2021-12-31T14:00:00Z", "p": 0.8264, "t": "4 słupki, 28d"},
        {"d": "2021-12-31T14:00:00Z", "p": 0.8225, "t": "Wolumen 2.93M"}
      ]},
      "mark": {"type": "text", "fontSize": 7.5, "color": "#ffffff", "align": "center", "baseline": "middle"},
      "encoding": {
        "y": {"field": "p", "type": "quantitative", "scale": {"domain": [0.8155, 0.9649], "nice": false, "zero": false}},
        "text": {"field": "t"}
      }
    },
    {
      "data": {"values": [{"d": "2022-03-29T10:00:00Z", "d2": "2022-05-05T00:00:00Z", "p": 0.8371, "p2": 0.8335}], "format": {"parse": {"d2": "date"}}},
      "mark": {"type": "rect", "color": "#ffffff"},
      "encoding": {
        "x2": {"field": "d2"},
        "y": {"field": "p", "type": "quantitative", "scale": {"domain": [0.8155, 0.9649], "nice": false, "zero": false}},
        "y2": {"field": "p2"}
      }
    },
    {
      "data": {"values": [{"d": "2022-04-16T00:00:00Z", "p": 0.8353, "t": "0.83530"}]},
      "mark": {"type": "text", "fontSize": 8, "color": "#131722", "align": "center", "baseline": "middle"},
      "encoding": {
        "y": {"field": "p", "type": "quantitative", "scale": {"domain": [0.8155, 0.9649], "nice": false, "zero": false}},
        "text": {"field": "t"}
      }
    },
    {
      "data": {"values": [{"d": "2019-12-12T20:00:00Z", "p": 0.9619, "t": "Euro Fx/Funt Brytyjski, 1T, FXCM"}]},
      "mark": {"type": "text", "fontSize": 8.5, "fontWeight": "bold", "color": "#131722", "align": "left", "baseline": "middle"},
      "encoding": {
        "y": {"field": "p", "type": "quantitative", "scale": {"domain": [0.8155, 0.9649], "nice": false, "zero": false}},
        "text": {"field": "t"}
      }
    },
    {
      "data": {"values": [
        {"d": "2019-12-12T20:00:00Z", "p": 0.9582, "t": "Ichimoku (9, 26, 52, 26)"},
        {"d": "2019-12-12T20:00:00Z", "p": 0.9548, "t": "Hosoda N-wave TPbtcusd (0.85996, 0.84555, 0.85509)"}
      ]},
      "mark": {"type": "text", "fontSize": 8, "color": "#131722", "align": "left", "baseline": "middle"},
      "encoding": {
        "y": {"field": "p", "type": "quantitative", "scale": {"domain": [0.8155, 0.9649], "nice": false, "zero": false}},
        "text": {"field": "t"}
      }
    }
  ]
}
